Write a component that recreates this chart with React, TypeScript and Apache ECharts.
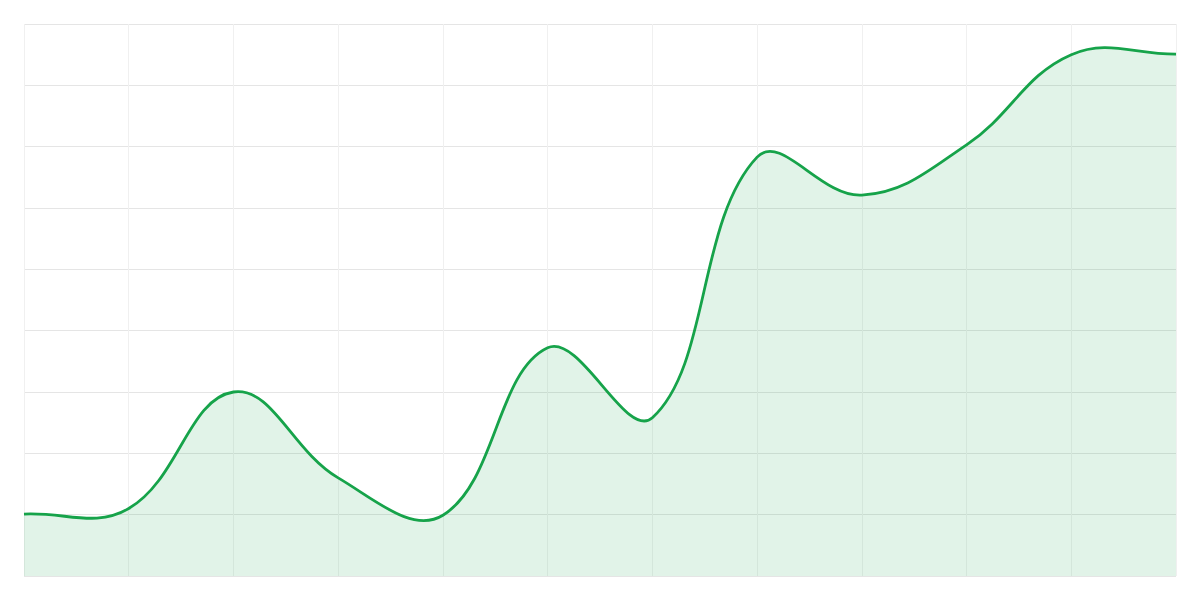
import React, { useEffect, useRef } from 'react';
import * as echarts from 'echarts';

const categories = ['1', '2', '3', '4', '5', '6', '7', '8', '9', '10', '11', '12'];
const values = [10.1, 11, 30, 16, 9.9, 37.2, 25.8, 68.3, 62.1, 70.3, 85, 85.1];

const LINE_COLOR = '#16a34a';
const TENSION = 0.4;

// cardinal spline (same idea as Chart.js), in pixel space
const buildPath = (pts: number[][], baseY: number) => {
  let line = `M${pts[0][0]},${pts[0][1]}`;
  const cps: number[][][] = pts.map((p, i) => {
    const prev = pts[i - 1] || p;
    const next = pts[i + 1] || p;
    const d01 = Math.hypot(p[0] - prev[0], p[1] - prev[1]);
    const d12 = Math.hypot(next[0] - p[0], next[1] - p[1]);
    const s01 = d01 / (d01 + d12 || 1);
    const s12 = d12 / (d01 + d12 || 1);
    const fa = TENSION * s01;
    const fb = TENSION * s12;
    return [
      [p[0] - fa * (next[0] - prev[0]), p[1] - fa * (next[1] - prev[1])],
      [p[0] + fb * (next[0] - prev[0]), p[1] + fb * (next[1] - prev[1])],
    ];
  });
  for (let i = 1; i < pts.length; i++) {
    const c1 = cps[i - 1][1];
    const c2 = cps[i][0];
    line += ` C${c1[0]},${c1[1]} ${c2[0]},${c2[1]} ${pts[i][0]},${pts[i][1]}`;
  }
  const last = pts[pts.length - 1];
  const area = `${line} L${last[0]},${baseY} L${pts[0][0]},${baseY} Z`;
  return { line, area };
};

const App: React.FC = () => {
  const chartRef = useRef<HTMLDivElement>(null);

  useEffect(() => {
    if (!chartRef.current) return;
    const chart = echarts.init(chartRef.current, undefined, { renderer: 'svg' });
    chart.setOption({
      animation: false,
      grid: { left: 24, right: 24, top: 24, bottom: 24 },
      xAxis: {
        type: 'category',
        data: categories,
        boundaryGap: false,
        axisLine: { show: false },
        axisTick: { show: false },
        axisLabel: { show: false },
        splitLine: { show: true, lineStyle: { color: '#f0f0f0', width: 1 } },
      },
      yAxis: {
        type: 'value',
        min: 0,
        max: 90,
        interval: 10,
        axisLine: { show: false },
        axisTick: { show: false },
        axisLabel: { show: false },
        splitLine: { lineStyle: { color: '#e5e5e5', width: 1 } },
      },
      series: [
        {
          type: 'custom',
          coordinateSystem: 'cartesian2d',
          data: values.map((v, i) => [i, v]),
          renderItem: (params: any, api: any) => {
            if (params.dataIndex !== 0) return null;
            const pts = values.map((v, i) => api.coord([i, v]));
            const baseY = api.coord([0, 0])[1];
            const { line, area } = buildPath(pts, baseY);
            return {
              type: 'group',
              children: [
                {
                  type: 'path',
                  shape: { pathData: area },
                  style: { fill: 'rgba(22,163,74,0.13)', stroke: 'none' },
                },
                {
                  type: 'path',
                  shape: { pathData: line },
                  style: { fill: 'none', stroke: LINE_COLOR, lineWidth: 2.8 },
                },
              ],
            };
          },
        },
      ],
    });
    return () => chart.dispose();
  }, []);

  return <div ref={chartRef} style={{ position: 'fixed', left: 0, top: 0, width: 1200, height: 600 }} />;
};

export default App;
